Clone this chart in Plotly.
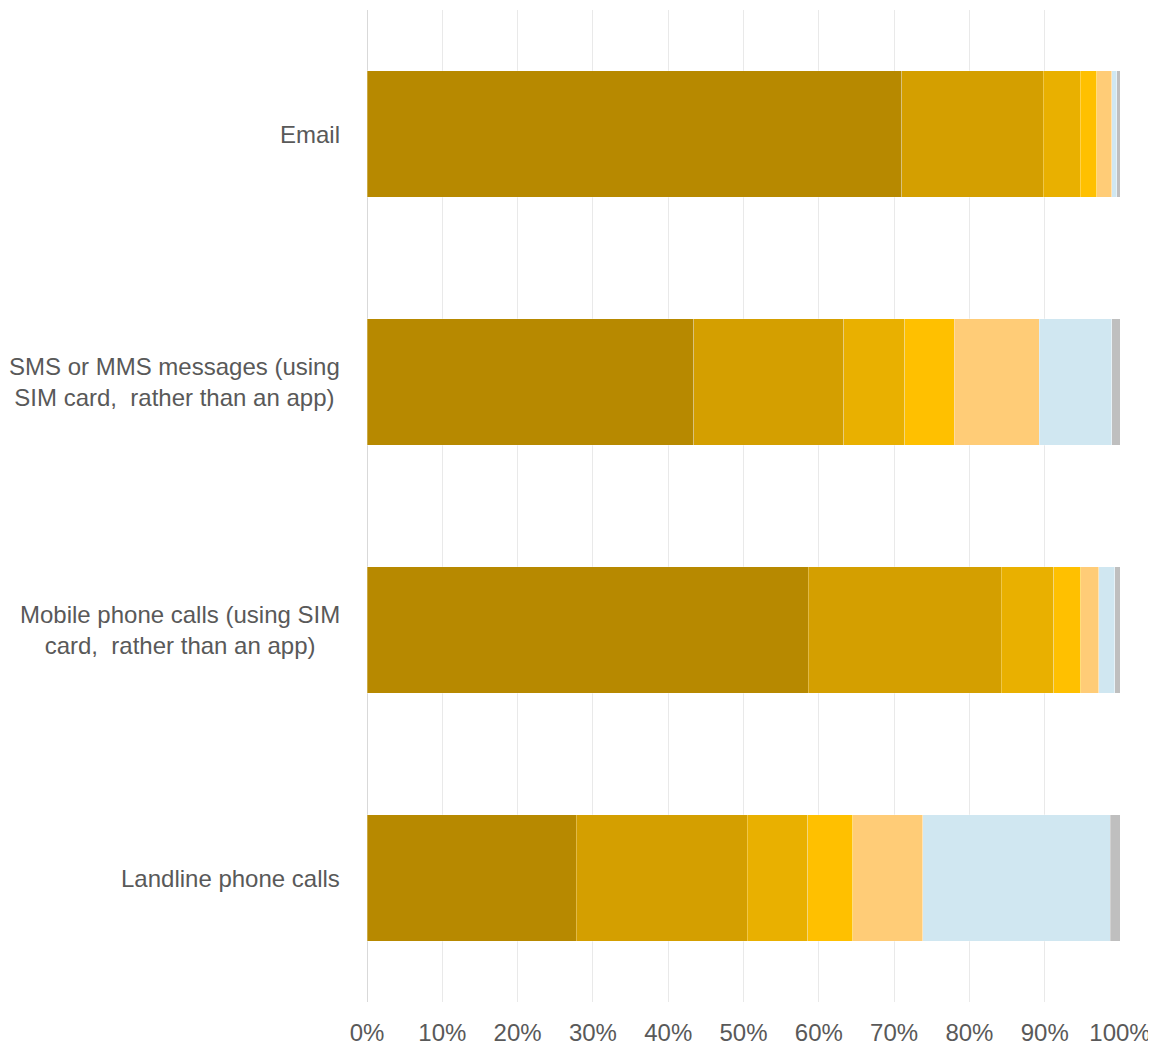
import plotly.graph_objects as go

categories = ["Email",
              "SMS or MMS messages (using<br>SIM card,  rather than an app)",
              "Mobile phone calls (using SIM<br>card,  rather than an app)",
              "Landline phone calls"]

series_names = ["S1", "S2", "S3", "S4", "S5", "S6", "S7"]
series_colors = ["#B78900", "#D49F00", "#E9B000", "#FFC000", "#FFCC77", "#D0E7F1", "#BFBFBF"]

s1 = [71.0, 43.4, 58.6, 27.8]
s2 = [18.8, 19.9, 25.6, 22.7]
s3 = [4.9, 8.1, 7.0, 8.0]
s4 = [2.2, 6.6, 3.6, 6.0]
s5 = [2.0, 11.3, 2.4, 9.3]
s6 = [0.7, 9.6, 2.1, 24.9]
s7 = [0.4, 1.1, 0.7, 1.3]
series_values = [s1, s2, s3, s4, s5, s6, s7]

x_ticks = [0, 10, 20, 30, 40, 50, 60, 70, 80, 90, 100]
x_ticklabels = [f"{t}%" for t in x_ticks]

fig = go.Figure()
for name, color, vals in zip(series_names, series_colors, series_values):
    fig.add_trace(go.Bar(
        y=categories, x=vals, name=name, orientation="h",
        marker=dict(color=color, line=dict(color="rgba(255,255,255,0.35)", width=0.8)),
        hoverinfo="x+name",
    ))

FONT = "Liberation Sans, Arial, sans-serif"
for cat in categories:
    fig.add_annotation(
        x=0, xref="paper", xshift=-25, xanchor="right",
        y=cat, yref="y", yanchor="middle",
        text=cat, showarrow=False, align="center",
        font=dict(family=FONT, size=24, color="#595959"),
    )

# page body has an 8px default margin, so the figure is sized to fit the window
fig.update_layout(
    width=1148, height=1037,
    margin=dict(l=359, r=36, t=2, b=43),
    barmode="stack", bargap=0.488,
    showlegend=False,
    plot_bgcolor="white", paper_bgcolor="white",
    font=dict(family=FONT, size=24, color="#595959"),
)
fig.update_xaxes(
    range=[0, 100], tickvals=x_ticks, ticktext=x_ticklabels,
    showgrid=True, gridcolor="#E9E9E9", gridwidth=1.3,
    zeroline=True, zerolinecolor="#D9D9D9", zerolinewidth=1.3,
    showline=False, ticks="", ticklabelstandoff=14, automargin=False,
    tickfont=dict(family=FONT, size=24, color="#595959"),
)
fig.update_yaxes(
    autorange="reversed", showticklabels=False, showgrid=False,
    zeroline=False, showline=False, ticks="", automargin=False,
)

fig.write_html("out.html")
